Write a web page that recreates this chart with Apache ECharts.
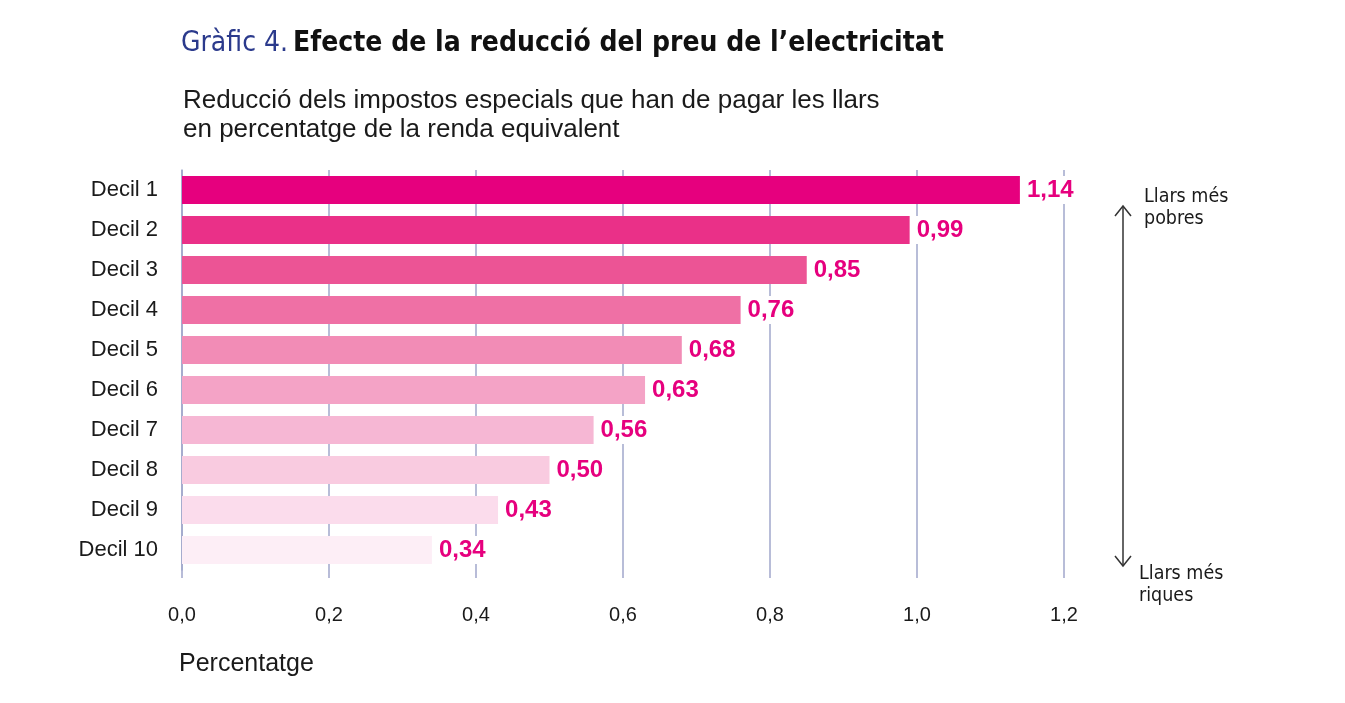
<!DOCTYPE html>
<html>
<head>
<meta charset="utf-8">
<title>Gràfic 4</title>
<script src="https://cdn.jsdelivr.net/npm/echarts@6/dist/echarts.min.js"></script>
<style>
  html, body { margin: 0; padding: 0; background: #fff; }
  #main { width: 1345px; height: 703px; }
</style>
</head>
<body>
<div id="main"></div>
<script>
const categories = ["Decil 1", "Decil 2", "Decil 3", "Decil 4", "Decil 5",
                    "Decil 6", "Decil 7", "Decil 8", "Decil 9", "Decil 10"];
const values = [1.14, 0.99, 0.85, 0.76, 0.68, 0.63, 0.56, 0.50, 0.43, 0.34];
const barColors = ["#e6007e", "#ea3088", "#ec5495", "#ef70a5", "#f28cb6",
                   "#f4a3c6", "#f6b7d4", "#f9cbe0", "#fbdcec", "#fdeef6"];
const xTicks = [0, 0.2, 0.4, 0.6, 0.8, 1.0, 1.2];

const font = '"Liberation Sans", Arial, sans-serif';
const narrow = '"DejaVu Sans Condensed", "Liberation Sans", sans-serif';
const gridColor = "#a1a7cb";

function comma(v, digits) {
  return v.toFixed(digits).replace(".", ",");
}

const chart = echarts.init(document.getElementById("main"));

chart.setOption({
  textStyle: { fontFamily: font },
  title: [
    {
      left: 176,
      top: 25,
      text: "{a|Gràfic 4.} {b|Efecte de la reducció del preu de l’electricitat}",
      textStyle: {
        rich: {
          a: { fontFamily: narrow, fontSize: 28, fontWeight: "normal", color: "#2b3a8c" },
          b: { fontFamily: narrow, fontSize: 28, fontWeight: "bold", color: "#111" }
        }
      }
    },
    {
      left: 178,
      top: 81,
      text: "Reducció dels impostos especials que han de pagar les llars\nen percentatge de la renda equivalent",
      textStyle: { fontFamily: font, fontSize: 26, fontWeight: "normal", color: "#1a1a1a", lineHeight: 29 }
    },
    {
      left: 174,
      top: 647,
      text: "Percentatge",
      textStyle: { fontFamily: font, fontSize: 25, fontWeight: "normal", color: "#1a1a1a" }
    }
  ],
  grid: { left: 182, right: 281, top: 170, bottom: 133, containLabel: false },
  xAxis: {
    type: "value",
    min: 0,
    max: 1.2,
    interval: 0.2,
    axisLine: { show: false },
    axisTick: { show: true, length: 8, lineStyle: { color: gridColor, width: 1.5 } },
    splitLine: { show: true, lineStyle: { color: gridColor, width: 1.5 } },
    axisLabel: {
      margin: 35,
      fontSize: 20,
      color: "#1a1a1a",
      fontFamily: font,
      formatter: v => comma(v, 1),
      customValues: xTicks
    }
  },
  yAxis: {
    type: "category",
    data: categories,
    inverse: true,
    axisLine: { show: true, lineStyle: { color: gridColor, width: 1.5 } },
    axisTick: { show: false },
    axisLabel: { margin: 24, fontSize: 22, color: "#1a1a1a", fontFamily: font }
  },
  series: [
    {
      type: "bar",
      barWidth: 28,
      z: 3,
      data: values.map((v, i) => ({ value: v, itemStyle: { color: barColors[i] } })),
      label: {
        show: true,
        position: "right",
        distance: 2,
        fontFamily: font,
        fontSize: 24,
        fontWeight: "bold",
        color: "#e6007e",
        backgroundColor: "#fff",
        padding: [2, 6, 2, 5],
        formatter: p => comma(p.value, 2)
      }
    }
  ],
  graphic: [
    {
      type: "line",
      shape: { x1: 1123, y1: 207, x2: 1123, y2: 565 },
      style: { stroke: "#333", lineWidth: 1.5 }
    },
    {
      type: "polyline",
      shape: { points: [[1115, 216], [1123, 206], [1131, 216]] },
      style: { stroke: "#333", lineWidth: 1.5, fill: null }
    },
    {
      type: "polyline",
      shape: { points: [[1115, 556], [1123, 566], [1131, 556]] },
      style: { stroke: "#333", lineWidth: 1.5, fill: null }
    },
    {
      type: "text",
      left: 1144,
      top: 186,
      style: { text: "Llars més\npobres", fontFamily: narrow, fontSize: 19.5, lineHeight: 22, fill: "#1a1a1a" }
    },
    {
      type: "text",
      left: 1139,
      top: 563,
      style: { text: "Llars més\nriques", fontFamily: narrow, fontSize: 19.5, lineHeight: 22, fill: "#1a1a1a" }
    }
  ]
});
</script>
</body>
</html>
